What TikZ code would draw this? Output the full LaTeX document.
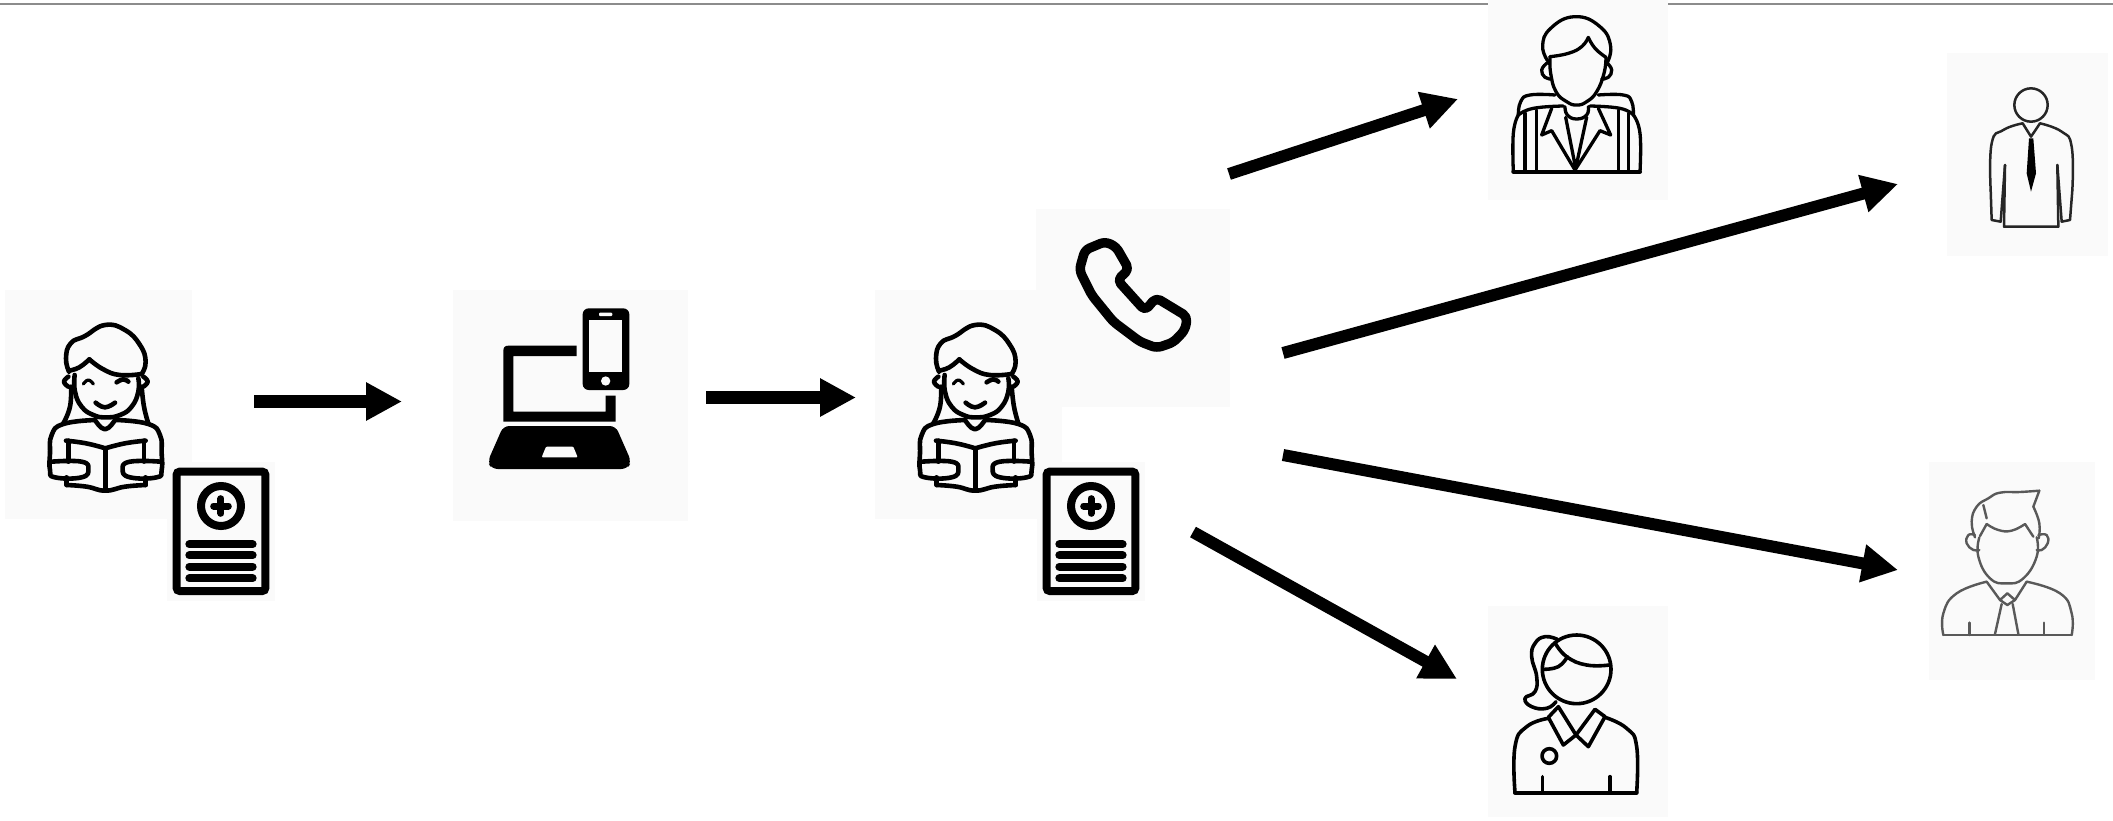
\documentclass[tikz,border=0pt]{standalone}
\usetikzlibrary{arrows.meta}
\definecolor{panel}{HTML}{FAFAFA}
\tikzset{
 bigarrow/.style={line width=#1,-{Triangle[length=36pt,width=36pt]}},
 bigarrow/.default=12pt,
 ink/.style={draw=black,line cap=round,line join=round,fill=none},
 flat/.style={smooth,tension=0.8},
 panelbox/.style={fill=panel,draw=none}
}
\newcommand{\zoomed}[2]{\begin{scope}[shift={(#1,#2)},x=0.33333pt,y=-0.33333pt]}
\newcommand{\readerpanel}[1]{%
 \zoomed{#1}{280}
 \fill[panel] (15,30) rectangle (576,716);
 \fill[panel] (501,545) rectangle (825,962);
 \end{scope}}
\newcommand{\reader}[1]{%
 \zoomed{#1}{280}
 \begin{scope}[ink,line width=4.6pt]
 \draw plot[flat] coordinates {(207,275)(198,235)(212,190)(255,168)(315,135)(375,150)(420,195)(437,245)(425,282)};
 \draw plot[flat] coordinates {(207,272)(238,262)(268,238)};
 \draw plot[flat] coordinates {(268,238)(310,268)(360,285)(425,282)};
 \draw plot[flat] coordinates {(224,285)(225,335)(245,380)(280,405)(318,412)(360,405)(395,380)(415,335)(415,295)};
 \draw plot[flat] coordinates {(205,290)(192,305)(205,320)};
 \draw plot[flat] coordinates {(430,290)(443,305)(430,320)};
 \draw plot[flat] coordinates {(213,320)(210,380)(190,430)};
 \draw plot[flat] coordinates {(425,320)(432,380)(445,430)};
 \draw[line width=3.2pt] plot[flat] coordinates {(250,312)(265,300)(280,312)};
 \draw plot[flat] coordinates {(350,307)(370,298)(385,305)};
 \draw plot[flat] coordinates {(287,368)(315,382)(345,368)};
 \draw plot[flat] coordinates {(285,420)(315,448)(345,420)};
 \draw plot[flat] coordinates {(285,420)(190,432)(155,465)(150,520)(150,570)(165,592)(245,592)(265,568)(245,545)(155,545)};
 \draw plot[flat] coordinates {(350,420)(445,432)(480,465)(485,520)(485,570)(470,592)(390,592)(368,568)(390,545)(482,545)};
 \draw plot[flat] coordinates {(198,482)(258,490)(316,505)};
 \draw plot[flat] coordinates {(316,505)(375,490)(437,482)};
 \draw (205,482) -- (205,545) (432,482) -- (432,545);
 \draw (200,592) -- (200,615);
 \draw (437,592) -- (437,615);
 \draw plot[flat] coordinates {(200,615)(260,620)(316,632)(375,620)(437,615)};
 \draw (316,505) -- (316,632);
 \end{scope}
 % record sheet
 \draw[line width=8pt,rounded corners=3pt] (530,575) rectangle (796,933);
 \draw[line width=8pt] (663,678) circle[radius=60];
 \draw[line width=7pt,line cap=round] (641,678) -- (685,678) (663,656) -- (663,700);
 \foreach \yy in {793,826,860,895}
   \draw[line width=8pt,line cap=round] (568,\yy) -- (758,\yy);
 \end{scope}}
\begin{document}
\begin{tikzpicture}[x=1pt,y=-1pt]
\useasboundingbox (0,0) rectangle (2113,820);
\fill[white] (0,0) rectangle (2113,820);
% top rule
\draw[draw=black!45,line width=1.2pt] (0,4) -- (2113,4);
% panels
\readerpanel{0}
\readerpanel{870}
\fill[panel] (453,290) rectangle (688,521);
\fill[panel] (1036,209) rectangle (1230,407);
\fill[panel] (1488,0) rectangle (1668,200);
\fill[panel] (1947,53) rectangle (2108,256);
\fill[panel] (1929,462) rectangle (2095,680);
\fill[panel] (1488,606) rectangle (1668,817);
% readers and sheets
\reader{0}
\reader{870}
% laptop and phone
\zoomed{440}{280}
 \fill[black] (410,197) -- (205,197) .. controls (195,197) and (190,202) .. (190,212) -- (190,425) -- (527,425) -- (527,347) -- (497,347) -- (497,395) -- (220,395) -- (220,228) -- (410,228) -- cycle;
 \fill[black,rounded corners=6pt] (190,438) -- (527,438) -- (574,545) -- (562,567) -- (155,567) -- (143,545) -- cycle;
 \fill[panel,rounded corners=1pt] (318,500) -- (400,500) -- (413,532) -- (305,532) -- cycle;
 \fill[black,rounded corners=6pt] (428,85) rectangle (568,330);
 \fill[panel] (448,120) rectangle (547,277);
 \fill[panel,rounded corners=1pt] (477,98) rectangle (517,108);
 \fill[panel] (497,303) circle[radius=14];
\end{scope}
% handset
\zoomed{1030}{200}
 \draw[ink,line width=9.5pt,rounded corners=5pt] (225,125) -- (258,140) -- (297,208) -- (262,240) -- (345,332) -- (378,293) -- (472,350) -- (465,390) -- (430,427) -- (380,444) -- (330,425) -- (250,365) -- (185,285) -- (148,210) -- (165,150) -- cycle;
\end{scope}
% seated figure, top
\zoomed{1480}{0}
\begin{scope}[ink,line width=3.3pt]
 \draw plot[flat] coordinates {(208,190)(188,140)(212,85)(285,50)(360,80)(392,140)(378,195)};
 \draw plot[flat] coordinates {(210,170)(265,160)(305,140)(325,112)};
 \draw plot[flat] coordinates {(325,112)(345,145)(378,172)};
 \draw plot[flat] coordinates {(210,170)(212,220)(228,275)(260,305)(290,315)(320,305)(350,275)(372,220)(378,172)};
 \draw plot[flat] coordinates {(200,190)(185,210)(195,232)(215,237)};
 \draw plot[flat] coordinates {(382,190)(395,210)(385,232)(365,237)};
 \draw plot[flat] coordinates {(255,320)(262,345)(290,357)(320,345)(325,320)};
 \draw plot[flat] coordinates {(225,285)(150,285)(122,305)(115,345)};
 \draw plot[flat] coordinates {(355,285)(430,285)(455,305)(460,345)};
 \draw plot[flat] coordinates {(115,345)(160,325)(250,318)};
 \draw plot[flat] coordinates {(330,318)(420,325)(460,345)};
 \draw plot[flat] coordinates {(115,345)(100,400)(100,515)};
 \draw plot[flat] coordinates {(460,345)(480,400)(480,515)};
 \draw[line width=4pt] (100,515) -- (480,515);
 \draw (135,340) -- (135,515) (170,330) -- (170,515) (415,330) -- (415,515) (445,340) -- (445,515);
 \draw (215,325) -- (185,405) -- (215,392) -- (285,510) -- (360,392) -- (392,405) -- (355,325);
 \draw (257,352) -- (287,505) -- (320,352);
\end{scope}
\end{scope}
% standing figure with tie
\zoomed{1930}{40}
\begin{scope}[ink,line width=2.5pt,draw=black!85]
 \draw (303,195) circle[radius=50];
 \draw plot[flat] coordinates {(278,250)(220,270)(185,310)(182,450)};
 \draw (182,450) -- (185,540) -- (212,545) -- (225,375);
 \draw (225,375) -- (222,560) -- (385,560) -- (382,375);
 \draw plot[flat] coordinates {(330,250)(395,275)(425,320)(427,450)};
 \draw (427,450) -- (420,540) -- (395,545) -- (382,375);
 \draw (278,250) -- (303,290) -- (330,250);
 \fill[black] (297,295) -- (310,295) -- (318,400) -- (303,455) -- (290,400) -- cycle;
\end{scope}
\end{scope}
% man with quiff
\zoomed{1920}{450}
\begin{scope}[ink,line width=2.4pt,draw=black!65]
 \draw plot[flat] coordinates {(165,262)(155,215)(170,170)(205,145)(240,128)(300,126)(358,122)};
 \draw (358,122) -- (340,170);
 \draw plot[flat] coordinates {(340,170)(358,220)(356,265)};
 \draw plot[flat] coordinates {(180,258)(200,222)};
 \draw plot[flat] coordinates {(200,222)(235,240)(275,242)(315,222)};
 \draw plot[flat] coordinates {(315,222)(340,260)};
 \draw plot[flat] coordinates {(190,165)(200,205)};
 \draw plot[flat] coordinates {(178,262)(175,320)(210,385)(260,400)(310,385)(350,320)(350,262)};
 \draw plot[flat] coordinates {(165,255)(145,255)(140,280)(160,300)(178,300)};
 \draw plot[flat] coordinates {(355,255)(380,255)(383,280)(365,300)(350,300)};
 \draw plot[flat] coordinates {(200,395)(110,430)(70,490)(70,555)};
 \draw plot[flat] coordinates {(320,395)(420,430)(455,490)(455,555)};
 \draw (70,555) -- (455,555);
 \draw (200,395) -- (240,450) -- (262,430) -- (285,450) -- (320,395);
 \draw (240,450) -- (262,465) -- (285,450);
 \draw (245,462) -- (225,552) (278,462) -- (295,552);
 \draw (148,518) -- (148,555) (372,518) -- (372,555);
\end{scope}
\end{scope}
% woman with ponytail
\zoomed{1480}{600}
\begin{scope}[ink,line width=3.6pt]
 \draw (290,208) circle[radius=103];
 \draw plot[flat] coordinates {(225,128)(260,170)(320,195)(388,195)};
 \draw plot[flat] coordinates {(190,208)(235,200)(262,170)};
 \draw plot[flat] coordinates {(232,118)(195,110)(165,130)(155,170)(170,230)(165,275)(135,295)(155,320)(200,325)(228,305)};
 \draw (205,352) -- (250,435) -- (288,405) -- (325,440) -- (375,350);
 \draw (205,352) -- (235,320) -- (288,405) -- (345,328) -- (375,350);
 \draw plot[flat] coordinates {(205,355)(140,380)(105,440)(105,578)};
 \draw plot[flat] coordinates {(375,352)(440,385)(470,440)(470,578)};
 \draw[line width=4pt] (105,578) -- (470,578);
 \draw (208,468) circle[radius=22];
 \draw (187,530) -- (187,578) (390,530) -- (390,578);
\end{scope}
\end{scope}
% connector ends
\coordinate (a1s) at (254,401.5);  \coordinate (a1e) at (402,401.5);
\coordinate (a2s) at (706,397.5);  \coordinate (a2e) at (856,397.5);
\coordinate (a3s) at (1229,174);   \coordinate (a3e) at (1458,99);
\coordinate (a4s) at (1283,353);   \coordinate (a4e) at (1898,184);
\coordinate (a5s) at (1283,455);   \coordinate (a5e) at (1898,570);
\coordinate (a6s) at (1193,532);   \coordinate (a6e) at (1457,679);
\draw[bigarrow=13pt] (a1s) -- (a1e);
\draw[bigarrow=13pt] (a2s) -- (a2e);
\draw[bigarrow=12pt] (a3s) -- (a3e);
\draw[bigarrow=12pt] (a4s) -- (a4e);
\draw[bigarrow=12pt] (a5s) -- (a5e);
\draw[bigarrow=12pt] (a6s) -- (a6e);
\end{tikzpicture}
\end{document}
